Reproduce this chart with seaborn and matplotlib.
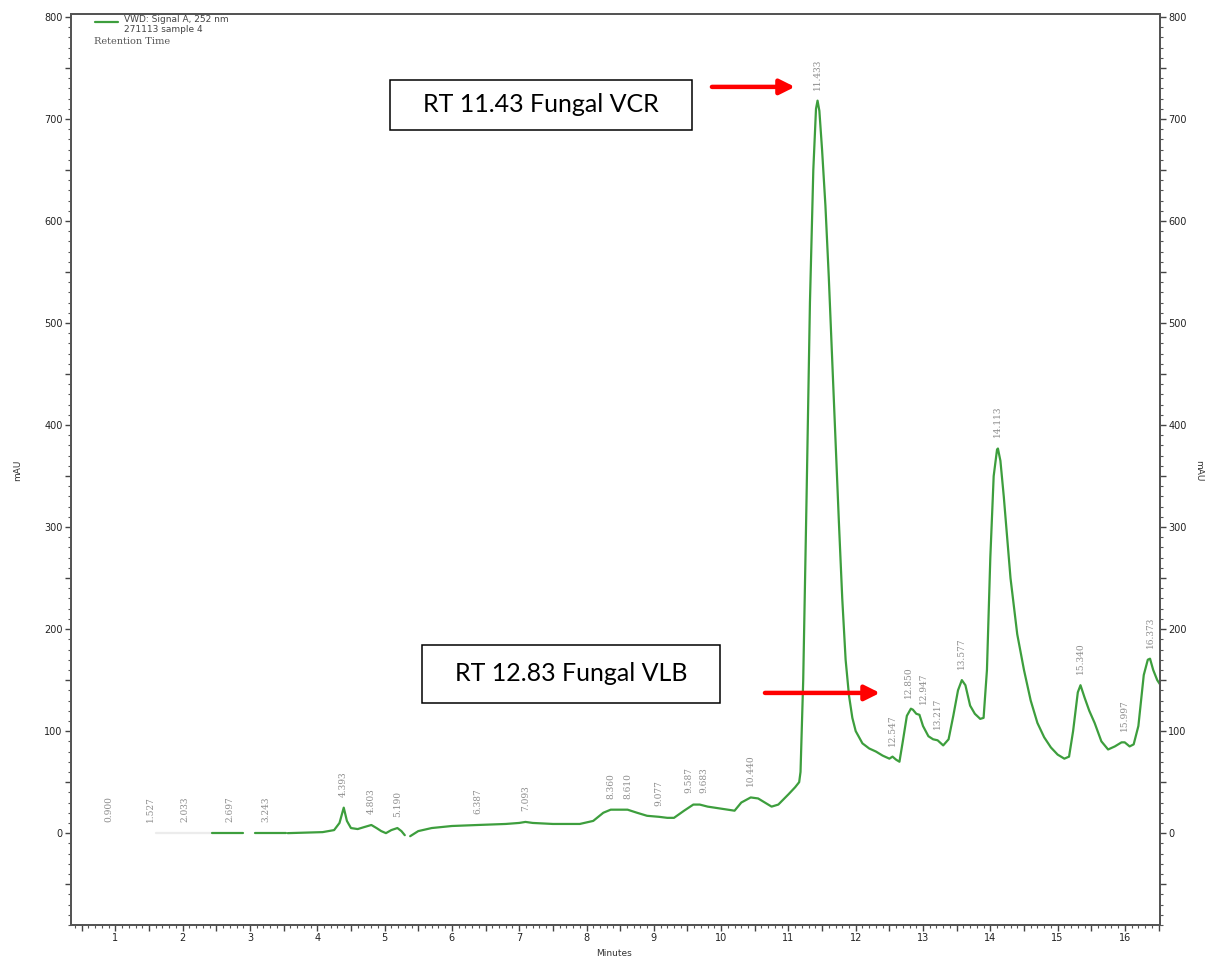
import numpy as np
import pandas as pd
import matplotlib
matplotlib.use("Agg")
import matplotlib.pyplot as plt
import seaborn as sns
from matplotlib.ticker import MultipleLocator, FuncFormatter
from matplotlib.patches import Rectangle

# ---------------- data ----------------
# faint (nearly invisible) start of the trace
faint_rt = [1.61, 2.43]
faint_mau = [0.0, 0.0]

# chromatogram trace segments (minutes, mAU)
seg1_rt = [2.43, 2.90]
seg1_mau = [0.0, 0.0]
seg2_rt = [3.07, 3.54]
seg2_mau = [0.0, 0.0]
seg3_rt = [3.56, 4.08, 4.25, 4.33, 4.393, 4.44, 4.50, 4.60, 4.70, 4.803, 4.88,
           4.95, 5.02, 5.10, 5.19, 5.25, 5.30]
seg3_mau = [0.0, 1.0, 3.0, 10.0, 25.0, 12.0, 5.0, 4.0, 6.0, 8.0, 5.0,
            2.0, 0.0, 3.0, 5.0, 2.0, -2.0]
seg4_rt = [5.38, 5.50, 5.70, 6.00, 6.387, 6.80, 7.00, 7.093, 7.20, 7.50, 7.90,
           8.10, 8.25, 8.36, 8.50, 8.61, 8.75, 8.90, 9.077, 9.20, 9.30, 9.45,
           9.587, 9.683, 9.80, 10.00, 10.20, 10.30, 10.44, 10.55, 10.65, 10.75,
           10.85, 11.00, 11.10, 11.16, 11.18, 11.22, 11.27, 11.32, 11.37, 11.41,
           11.433, 11.46, 11.50, 11.55, 11.60, 11.65, 11.70, 11.75, 11.80, 11.85,
           11.90, 11.95, 12.00, 12.10, 12.20, 12.30, 12.40, 12.50, 12.547, 12.60,
           12.65, 12.70, 12.76, 12.82, 12.85, 12.90, 12.947, 13.00, 13.08, 13.15,
           13.217, 13.30, 13.38, 13.45, 13.52, 13.577, 13.63, 13.70, 13.77, 13.85,
           13.90, 13.95, 14.00, 14.05, 14.10, 14.113, 14.15, 14.20, 14.30, 14.40,
           14.50, 14.60, 14.70, 14.80, 14.90, 15.00, 15.10, 15.17, 15.23, 15.30,
           15.34, 15.40, 15.47, 15.55, 15.65, 15.75, 15.85, 15.95, 15.997, 16.07,
           16.13, 16.20, 16.28, 16.34, 16.373, 16.42, 16.48, 16.53]
seg4_mau = [-3.0, 2.0, 5.0, 7.0, 8.0, 9.0, 10.0, 11.0, 10.0, 9.0, 9.0,
            12.0, 20.0, 23.0, 23.0, 23.0, 20.0, 17.0, 16.0, 15.0, 15.0, 22.0,
            28.0, 28.0, 26.0, 24.0, 22.0, 30.0, 35.0, 34.0, 30.0, 26.0,
            28.0, 38.0, 45.0, 50.0, 60.0, 150.0, 330.0, 520.0, 650.0, 710.0,
            718.0, 708.0, 670.0, 615.0, 545.0, 465.0, 385.0, 305.0, 230.0, 170.0,
            135.0, 113.0, 100.0, 88.0, 83.0, 80.0, 76.0, 73.0, 75.0, 72.0,
            70.0, 90.0, 115.0, 122.0, 121.0, 117.0, 116.0, 105.0, 95.0, 92.0,
            91.0, 86.0, 92.0, 115.0, 140.0, 150.0, 145.0, 125.0, 117.0, 112.0,
            113.0, 160.0, 270.0, 350.0, 376.0, 377.0, 365.0, 330.0, 250.0, 195.0,
            160.0, 130.0, 108.0, 94.0, 84.0, 77.0, 73.0, 75.0, 100.0, 138.0,
            145.0, 133.0, 120.0, 108.0, 90.0, 82.0, 85.0, 89.0, 89.0, 85.0,
            87.0, 105.0, 155.0, 170.0, 171.0, 160.0, 150.0, 145.0]

# integrated peak labels (retention time, apex height)
peak_rt = [0.900, 1.527, 2.033, 2.697, 3.243, 4.393, 4.803, 5.190, 6.387, 7.093,
           8.360, 8.610, 9.077, 9.587, 9.683, 10.440, 11.433, 12.547, 12.850,
           12.947, 13.217, 13.577, 14.113, 15.340, 15.997, 16.373]
peak_h = [0, 0, 0, 0, 0, 25, 8, 5, 8, 11,
          23, 23, 16, 28, 28, 35, 718, 75, 122,
          116, 91, 150, 377, 145, 89, 171]
peak_labels = ["0.900", "1.527", "2.033", "2.697", "3.243", "4.393", "4.803", "5.190",
               "6.387", "7.093", "8.360", "8.610", "9.077", "9.587", "9.683", "10.440",
               "11.433", "12.547", "12.850", "12.947", "13.217", "13.577", "14.113",
               "15.340", "15.997", "16.373"]

y_ticks = [0, 100, 200, 300, 400, 500, 600, 700, 800]
x_ticks = [1, 2, 3, 4, 5, 6, 7, 8, 9, 10, 11, 12, 13, 14, 15, 16]

# ---------------- figure ----------------
sns.set_style("ticks")
plt.rcParams["font.family"] = ["DejaVu Sans"]

fig = plt.figure(figsize=(12.09, 9.6), dpi=100)
fig.patch.set_facecolor("white")
ax = fig.add_axes([0.0587, 0.0365, 0.9007, 0.949])

segs = []
for i, (r, m) in enumerate([(seg1_rt, seg1_mau), (seg2_rt, seg2_mau),
                            (seg3_rt, seg3_mau), (seg4_rt, seg4_mau)]):
    segs.append(pd.DataFrame({"rt": r, "mau": m, "seg": i}))
df = pd.concat(segs, ignore_index=True)
faint = pd.DataFrame({"rt": faint_rt, "mau": faint_mau})

sns.lineplot(data=faint, x="rt", y="mau", color="#ececec", lw=1.6, ax=ax,
             estimator=None, sort=False)
sns.lineplot(data=df, x="rt", y="mau", units="seg", estimator=None, sort=False,
             color="#3d9e3d", lw=1.6, ax=ax)

ax.set_xlim(0.34, 16.52)
ax.set_ylim(-90, 803)
ax.set_xlabel("")
ax.set_ylabel("")

# ticks
ax.xaxis.set_major_locator(MultipleLocator(0.5))
ax.xaxis.set_minor_locator(MultipleLocator(0.1))
ax.xaxis.set_major_formatter(FuncFormatter(
    lambda v, p: f"{int(round(v))}" if abs(v - round(v)) < 1e-6 and int(round(v)) in x_ticks else ""))
ax.yaxis.set_major_locator(MultipleLocator(50))
ax.yaxis.set_minor_locator(MultipleLocator(10))
ax.yaxis.set_major_formatter(FuncFormatter(
    lambda v, p: f"{int(round(v))}" if int(round(v)) in y_ticks and abs(v % 100) < 1e-6 else ""))
ax.tick_params(axis="both", which="major", direction="out", length=4, width=1,
               color="#444444", labelsize=7, labelcolor="#222222", pad=2)
ax.tick_params(axis="both", which="minor", direction="out", length=2, width=0.8,
               color="#555555")
for s in ax.spines.values():
    s.set_color("#555555")
    s.set_linewidth(1.4)
    s.set_visible(True)

ax2 = ax.twinx()
ax2.set_ylim(ax.get_ylim())
ax2.yaxis.set_major_locator(MultipleLocator(50))
ax2.yaxis.set_minor_locator(MultipleLocator(10))
ax2.yaxis.set_major_formatter(ax.yaxis.get_major_formatter())
ax2.tick_params(axis="y", which="major", direction="out", length=4, width=1,
                color="#444444", labelsize=7, labelcolor="#222222", pad=2)
ax2.tick_params(axis="y", which="minor", direction="out", length=2, width=0.8,
                color="#555555")
for s in ax2.spines.values():
    s.set_color("#555555")
    s.set_linewidth(1.4)

# peak labels (closely spaced pairs nudged apart slightly so they stay legible)
n = len(peak_rt)
for i, (rt, h, lab) in enumerate(zip(peak_rt, peak_h, peak_labels)):
    dx = 0
    if i + 1 < n and peak_rt[i + 1] - rt < 0.15:
        dx = -3
    elif i > 0 and rt - peak_rt[i - 1] < 0.15:
        dx = 3
    ax.annotate(lab, xy=(rt, h), xytext=(dx, 8), textcoords="offset points",
                rotation=90, ha="center", va="bottom", fontsize=6.5,
                family="DejaVu Serif", color="#8c8c8c")

# annotation boxes & arrows
def box(x0, y0, x1, y1, text):
    ax.add_patch(Rectangle((x0, y0), x1 - x0, y1 - y0, transform=ax.transAxes,
                           fc="white", ec="black", lw=1.1, zorder=5))
    ax.text((x0 + x1) / 2, (y0 + y1) / 2, text, transform=ax.transAxes,
            ha="center", va="center", fontsize=18, family="Lato", color="black",
            zorder=6)

box(0.293, 0.8727, 0.570, 0.9276, "RT 11.43 Fungal VCR")
box(0.322, 0.2437, 0.596, 0.3074, "RT 12.83 Fungal VLB")

arrow_kw = dict(arrowstyle="-|>,head_length=0.9,head_width=0.45", color="#ff0000",
                lw=3.2, shrinkA=0, shrinkB=0)
ax.annotate("", xy=(0.6648, 0.9199), xytext=(0.5886, 0.9199),
            xycoords="axes fraction", textcoords="axes fraction", arrowprops=arrow_kw)
ax.annotate("", xy=(0.7429, 0.2547), xytext=(0.6373, 0.2547),
            xycoords="axes fraction", textcoords="axes fraction", arrowprops=arrow_kw)

# legend-like header
fig.add_artist(plt.Line2D([95 / 1209, 118 / 1209], [1 - 22 / 960, 1 - 22 / 960],
                          color="#3d9e3d", lw=1.6))
fig.text(124 / 1209, 1 - 20 / 960, "VWD: Signal A, 252 nm", fontsize=6.5,
         color="#444444", va="center", ha="left")
fig.text(124 / 1209, 1 - 30 / 960, "271113 sample 4", fontsize=6.5,
         color="#444444", va="center", ha="left")
fig.text(94 / 1209, 1 - 42 / 960, "Retention Time", fontsize=7,
         family="DejaVu Serif", color="#555555", va="center", ha="left")

# axis titles
fig.text(18 / 1209, 0.51, "mAU", rotation=90, fontsize=6.5, color="#333333",
         ha="center", va="center")
fig.text(1199 / 1209, 0.51, "mAU", rotation=270, fontsize=6.5, color="#333333",
         ha="center", va="center")
fig.text(614 / 1209, 1 - 953 / 960, "Minutes", fontsize=6.5, color="#333333",
         ha="center", va="center")

fig.savefig("out.png", dpi=100, facecolor="white")
